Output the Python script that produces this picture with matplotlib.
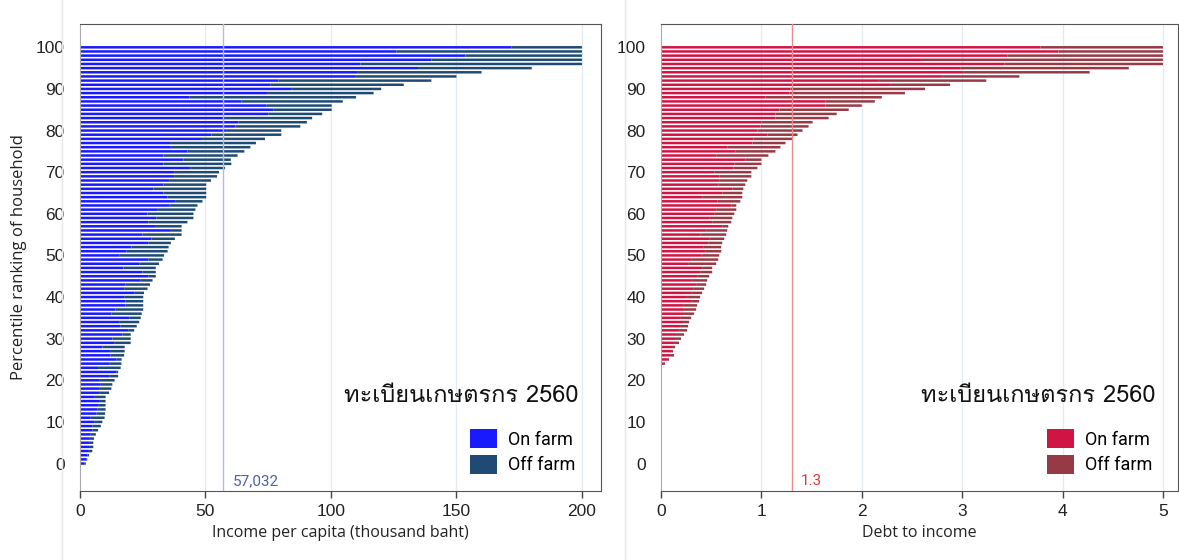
import numpy as np
import matplotlib
matplotlib.use("Agg")
import matplotlib.pyplot as plt
from matplotlib import font_manager
from matplotlib.ft2font import FT2Font
from matplotlib.lines import Line2D
from matplotlib.patches import Patch

# percentile 100 first, going down to 0
pct = np.arange(100, -1, -1)

# income per capita (thousand baht): on farm part and bar total
inc_on = [172, 126, 153.6, 140, 111.8, 134.7, 110.4, 109.6, 79, 76,
          84.4, 74.5, 43.5, 64.4, 74.4, 77.2, 75, 58.1, 63.2, 61.9,
          58.5, 52.4, 48.6, 35.9, 36.2,
          42.8, 33.3, 41.2, 33.3, 43.9, 37.5, 37.5, 35.5, 33.3, 29.3,
          33.3, 34.9, 37.9, 35.5, 31.0, 26.9, 30.5, 27.2, 29.9, 36.2,
          24.9, 28.5, 27.2, 20.5, 18.6, 15.6,
          27.2, 23.6, 17.3, 24.9, 27.2, 24.2, 18.2, 17.6, 21.8, 17.6,
          18.2, 18.2, 14.2, 12.5, 19.6, 15.6, 16.2, 19.2, 16.9, 12.9,
          13.6, 8.9, 12, 12.2, 14.6,
          11.6, 7.2, 14.6, 11.6, 7.6, 8.3, 7.6, 7.6, 5.9, 7.6,
          7.2, 6.9, 6.5, 4.3, 5.9, 4.9, 4.9, 4.3, 3.6, 3.6,
          3.6, 3.2, 2.9, 2.7, 1.9]
inc_tot = [200, 200, 200, 200, 200, 180, 160, 150, 140, 129,
           120, 117, 110, 104.7, 100.3, 100.3, 96.5, 92.5, 90.4, 87.8,
           80.2, 80.2, 73.7, 70.1, 67.9,
           65.5, 62.8, 60.1, 60.3, 57.8, 55.4, 54.6, 52.2, 50.3, 50.3,
           50.3, 50.3, 48.8, 46.8, 46.0, 45.2, 45.2, 42.8, 40.5, 40.5,
           40.5, 37.8, 36.2, 35.3, 34.9, 33.5,
           32.9, 31.5, 30.2, 30.2, 30.2, 28.9, 27.9, 26.9, 25.5, 25.2,
           25.2, 25.2, 25.2, 24.6, 24.2, 23.6, 22.6, 21.6, 20.2, 20.2,
           20.2, 17.8, 17.8, 17.6, 16.6,
           16.5, 16.2, 15.2, 15.2, 13.8, 12.9, 12.5, 11.6, 10.2, 10.2,
           10.2, 10.2, 10.0, 9.8, 8.9, 8.3, 7.2, 6.3, 5.6, 5.3,
           5.3, 4.9, 3.6, 2.9, 2.3]

# debt to income: on farm part and bar total
debt_on = [3.78, 3.96, 3.45, 2.59, 3.42, 2.98, 3.01, 2.80, 2.17, 2.29,
           1.29, 1.28, 1.04, 1.64, 1.64, 1.18, 1.14, 1.14, 1.0, 0.99,
           0.96, 1.06, 0.92, 0.91, 0.66,
           0.74, 0.55, 0.84, 0.73, 0.72, 0.53, 0.58, 0.58, 0.57, 0.71,
           0.61, 0.41, 0.56, 0.70, 0.55, 0.53, 0.48, 0.51, 0.61, 0.45,
           0.39, 0.48, 0.47, 0.42, 0.44, 0.40,
           0.30, 0.27, 0.41, 0.39, 0.36, 0.30, 0.35, 0.32, 0.30, 0.25,
           0.30, 0.22, 0.23, 0.23, 0.19, 0.22, 0.19, 0.18, 0.15, 0.14,
           0.12, 0.11, 0.10, 0.09, 0.07, 0.02] + [0] * 24
debt_tot = [5, 5, 5, 5, 5, 4.66, 4.27, 3.57, 3.24, 2.88,
            2.63, 2.43, 2.20, 2.13, 2.0, 1.87, 1.75, 1.67, 1.51, 1.47,
            1.41, 1.36, 1.31, 1.24, 1.19,
            1.14, 1.07, 1.0, 1.0, 0.96, 0.90, 0.90, 0.86, 0.84, 0.82,
            0.81, 0.81, 0.79, 0.75, 0.75, 0.73, 0.71, 0.70, 0.67, 0.66,
            0.65, 0.63, 0.61, 0.60, 0.60, 0.58,
            0.57, 0.55, 0.51, 0.51, 0.48, 0.46, 0.45, 0.43, 0.41, 0.39,
            0.38, 0.36, 0.35, 0.33, 0.30, 0.28, 0.27, 0.26, 0.23, 0.20,
            0.18, 0.14, 0.12, 0.13, 0.08, 0.04] + [0] * 24

inc_mean = 57.032
debt_mean = 1.3
title_th = "ทะเบียนเกษตรกร 2560"


def find_thai_font():
    for f in font_manager.fontManager.ttflist:
        try:
            ft = FT2Font(f.fname)
            if ft.get_char_index(ord("ท")) and ft.get_char_index(ord("เ")):
                return f.name
        except Exception:
            pass
    return "DejaVu Sans"


thai_font = find_thai_font()
plt.rcParams["font.family"] = ["Liberation Sans", "DejaVu Sans"]

fig = plt.figure(figsize=(11.79, 5.6), dpi=100)
axl = fig.add_axes([80 / 1179, 69 / 560, 521 / 1179, 467 / 560])
axr = fig.add_axes([661 / 1179, 69 / 560, 517 / 1179, 467 / 560])

for xx in (62, 625):
    fig.add_artist(Line2D([xx / 1179] * 2, [0, 1], transform=fig.transFigure,
                          color="#e6e6e6", lw=1))


def panel(ax, on, tot, c_on, c_off, xmax, xticks, xlabel, mean, mean_txt,
          mean_col, txt_col, show_ylabel):
    on = np.array(on, dtype=float)
    off = np.array(tot, dtype=float) - on
    ax.barh(pct, on, height=0.6, color=c_on, lw=0, zorder=2, snap=False)
    ax.barh(pct, off, left=on, height=0.6, color=c_off, lw=0, zorder=2,
            snap=False)
    ax.set_xlim(0, xmax)
    ax.set_ylim(-6.6, 105.6)
    ax.set_xticks(xticks)
    ax.set_yticks(range(0, 101, 10))
    for g in xticks[1:]:
        ax.axvline(g, color="#e3ebf1", lw=1, zorder=0)
    ax.axvline(mean, color=mean_col, lw=1, zorder=3)
    ax.text(mean + xmax * 0.018, -4.2, mean_txt, color=txt_col, fontsize=11,
            ha="left", va="center", family="Roboto")
    ax.tick_params(axis="y", length=0, pad=11, labelsize=12.5, colors="#222222")
    ax.tick_params(axis="x", length=5, width=1, color="#444444", labelsize=12.5,
                   labelcolor="#222222", pad=4)
    ax.set_xlabel(xlabel, fontsize=11.5, family="Open Sans", color="#222222",
                  labelpad=5)
    if show_ylabel:
        ax.set_ylabel("Percentile ranking of household", fontsize=12,
                      family="Open Sans", color="#222222", labelpad=6)
    for s in ("top", "right", "bottom"):
        ax.spines[s].set_color("#555555")
    ax.spines["left"].set_color("#aaaaaa")
    ax.text(0.957, 0.205, title_th, transform=ax.transAxes, ha="right",
            va="center", fontsize=17, family=[thai_font, "DejaVu Sans"],
            color="#111111")
    handles = [Patch(facecolor=c_on, label="On farm"),
               Patch(facecolor=c_off, label="Off farm")]
    ax.legend(handles=handles, loc="lower right",
              bbox_to_anchor=(0.965, 0.02), frameon=False,
              handlelength=1.5, handleheight=1.2, handletextpad=0.6,
              labelspacing=0.35, borderaxespad=0,
              prop={"family": "Roboto", "size": 13})


panel(axl, inc_on, inc_tot, "#1a1aff", "#1e4a73", 207.6, [0, 50, 100, 150, 200],
      "Income per capita (thousand baht)", inc_mean, "57,032",
      "#aebde6", "#4d62a3", True)
panel(axr, debt_on, debt_tot, "#d01545", "#963a45", 5.15, [0, 1, 2, 3, 4, 5],
      "Debt to income", debt_mean, "1.3",
      "#eb8a8a", "#e23a3a", False)

fig.savefig("out.png", dpi=100)
